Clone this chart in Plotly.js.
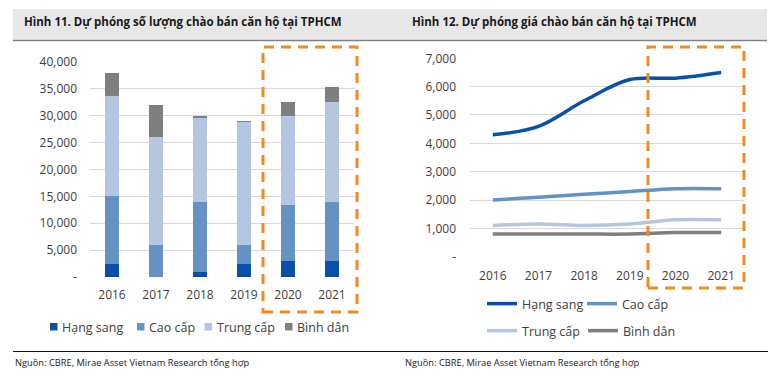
<!DOCTYPE html>
<html><head><meta charset="utf-8">
<script src="https://cdn.plot.ly/plotly-3.0.1.min.js"></script>
<style>html,body{margin:0;padding:0;background:#fff;} #chart{width:779px;height:381px;}</style>
</head><body><div id="chart"></div>
<script>
// ---- data ----
const years = ['2016', '2017', '2018', '2019', '2020', '2021'];
const segments = ['Hạng sang', 'Cao cấp', 'Trung cấp', 'Bình dân'];
// Hình 11: supply (units)
const supplyHangSang = [2500, 0, 1000, 2500, 2900, 2900];
const supplyCaoCap = [12500, 6000, 13000, 3500, 10500, 11100];
const supplyTrungCap = [18600, 20100, 15600, 22900, 16600, 18500];
const supplyBinhDan = [4400, 5900, 400, 200, 2500, 2800];
// Hình 12: price
const priceHangSang = [4300, 4600, 5500, 6250, 6300, 6500];
const priceCaoCap = [2000, 2100, 2200, 2300, 2400, 2400];
const priceTrungCap = [1100, 1150, 1100, 1150, 1300, 1300];
const priceBinhDan = [800, 800, 800, 800, 850, 850];
// tick labels
const supplyTickVals = [0, 5000, 10000, 15000, 20000, 25000, 30000, 35000, 40000];
const supplyTickText = ['-', '5,000', '10,000', '15,000', '20,000', '25,000', '30,000', '35,000', '40,000'];
const priceTickVals = [0, 1000, 2000, 3000, 4000, 5000, 6000, 7000];
const priceTickText = ['-', '1,000', '2,000', '3,000', '4,000', '5,000', '6,000', '7,000'];
const titleLeft = 'Hình 11. Dự phóng số lượng chào bán căn hộ tại TPHCM';
const titleRight = 'Hình 12. Dự phóng giá chào bán căn hộ tại TPHCM';
const sourceText = 'Nguồn: CBRE, Mirae Asset Vietnam Research tổng hợp';

// ---- styles ----
const colors = ['#0a50a8', '#6592c2', '#b4c6e1', '#7f7f7f'];
const W = 779, H = 381;
const px = x => x / W;
const py = y => 1 - y / H;
const FONT = '"Open Sans", "Noto Sans", sans-serif';
const tickFont = {family: FONT, size: 12, color: '#404040'};
const legendFont = {family: FONT, size: 12.5, color: '#404040'};

const supplySeries = [supplyHangSang, supplyCaoCap, supplyTrungCap, supplyBinhDan];
const priceSeries = [priceHangSang, priceCaoCap, priceTrungCap, priceBinhDan];

const traces = [];
segments.forEach((name, i) => {
  traces.push({
    type: 'bar', x: years, y: supplySeries[i], name: name,
    marker: {color: colors[i]}, xaxis: 'x', yaxis: 'y', showlegend: false,
    hoverinfo: 'none'
  });
});
segments.forEach((name, i) => {
  traces.push({
    type: 'scatter', mode: 'lines', x: years, y: priceSeries[i], name: name,
    line: {color: colors[i], width: 3.5, shape: 'spline', smoothing: 1},
    xaxis: 'x2', yaxis: 'y2', legend: i < 2 ? 'legend2' : 'legend3',
    hoverinfo: 'none'
  });
});

// left legend (square swatches) laid out like the original
const leftLegendX = [50, 137, 204.5, 285];
const shapes = [
  // title band
  {type: 'rect', xref: 'paper', yref: 'paper', x0: px(13), x1: px(767), y0: py(39.5), y1: py(9),
   fillcolor: '#e7e7e7', line: {width: 0}, layer: 'below'},
  {type: 'line', xref: 'paper', yref: 'paper', x0: px(13), x1: px(767), y0: py(40.5), y1: py(40.5),
   line: {color: '#808080', width: 1.5}},
  // source rule
  {type: 'line', xref: 'paper', yref: 'paper', x0: px(13), x1: px(768), y0: py(351.5), y1: py(351.5),
   line: {color: '#111111', width: 1}},
  // orange dashed boxes
  {type: 'rect', xref: 'paper', yref: 'paper', x0: px(263), x1: px(357), y0: py(312), y1: py(47),
   line: {color: '#f28a1e', width: 3, dash: '10px,7px'}, fillcolor: 'rgba(0,0,0,0)'},
  {type: 'rect', xref: 'paper', yref: 'paper', x0: px(648), x1: px(744), y0: py(288), y1: py(47),
   line: {color: '#f28a1e', width: 3, dash: '10px,7px'}, fillcolor: 'rgba(0,0,0,0)'}
];
const annotations = [
  {text: '<b>' + titleLeft + '</b>', xref: 'paper', yref: 'paper', x: px(22), y: py(21),
   xanchor: 'left', yanchor: 'middle', showarrow: false,
   font: {family: FONT, size: 11.5, color: '#1a1a1a'}},
  {text: '<b>' + titleRight + '</b>', xref: 'paper', yref: 'paper', x: px(410), y: py(21),
   xanchor: 'left', yanchor: 'middle', showarrow: false,
   font: {family: FONT, size: 11.5, color: '#1a1a1a'}},
  {text: sourceText, xref: 'paper', yref: 'paper', x: px(13), y: py(362),
   xanchor: 'left', yanchor: 'middle', showarrow: false,
   font: {family: FONT, size: 9.3, color: '#1a1a1a'}},
  {text: sourceText, xref: 'paper', yref: 'paper', x: px(403), y: py(362),
   xanchor: 'left', yanchor: 'middle', showarrow: false,
   font: {family: FONT, size: 9.3, color: '#1a1a1a'}}
];
segments.forEach((name, i) => {
  const x0 = leftLegendX[i];
  shapes.push({type: 'rect', xref: 'paper', yref: 'paper', x0: px(x0), x1: px(x0 + 7.5),
    y0: py(330.5), y1: py(323), fillcolor: colors[i], line: {width: 0}});
  annotations.push({text: name, xref: 'paper', yref: 'paper', x: px(x0 + 10), y: py(327),
    xanchor: 'left', yanchor: 'middle', showarrow: false, font: legendFont});
});

const layout = {
  width: W, height: H,
  margin: {l: 0, r: 0, t: 0, b: 0},
  paper_bgcolor: '#ffffff', plot_bgcolor: 'rgba(0,0,0,0)',
  barmode: 'stack', bargap: 0.7,
  font: {family: FONT, color: '#404040'},
  xaxis: {
    type: 'category', range: [-0.5, 5.5], domain: [px(90), px(354)],
    showgrid: false, showline: false, zeroline: false, ticks: '',
    tickfont: tickFont, ticklabelstandoff: 9, fixedrange: true
  },
  yaxis: {
    range: [0, 40000], domain: [py(277), py(62)],
    tickvals: supplyTickVals, ticktext: supplyTickText, tickfont: tickFont,
    showgrid: true, gridcolor: '#d9d9d9', gridwidth: 1, zeroline: false,
    showline: false, ticks: '', ticklabelstandoff: 12, fixedrange: true
  },
  xaxis2: {
    type: 'category', range: [-0.5, 5.5], domain: [px(470), px(744)], anchor: 'y2',
    showgrid: false, showline: false, zeroline: false, ticks: '',
    tickfont: tickFont, ticklabelstandoff: 10, fixedrange: true
  },
  yaxis2: {
    range: [0, 7000], domain: [py(256.7), py(58.3)], anchor: 'x2',
    tickvals: priceTickVals, ticktext: priceTickText, tickfont: tickFont,
    showgrid: true, gridcolor: '#d9d9d9', gridwidth: 1, zeroline: false,
    showline: false, ticks: '', ticklabelstandoff: 13, fixedrange: true
  },
  showlegend: true,
  legend2: {
    orientation: 'h', x: px(482), xanchor: 'left', y: py(304), yanchor: 'middle',
    font: legendFont, bgcolor: 'rgba(0,0,0,0)',
    itemwidth: 30, traceorder: 'normal', entrywidth: 55, entrywidthmode: 'pixels'
  },
  legend3: {
    orientation: 'h', x: px(482), xanchor: 'left', y: py(331), yanchor: 'middle',
    font: legendFont, bgcolor: 'rgba(0,0,0,0)',
    itemwidth: 30, traceorder: 'normal', entrywidth: 56, entrywidthmode: 'pixels'
  },
  shapes: shapes,
  annotations: annotations
};

Plotly.newPlot('chart', traces, layout, {staticPlot: true, displayModeBar: false});
</script>
</body></html>
